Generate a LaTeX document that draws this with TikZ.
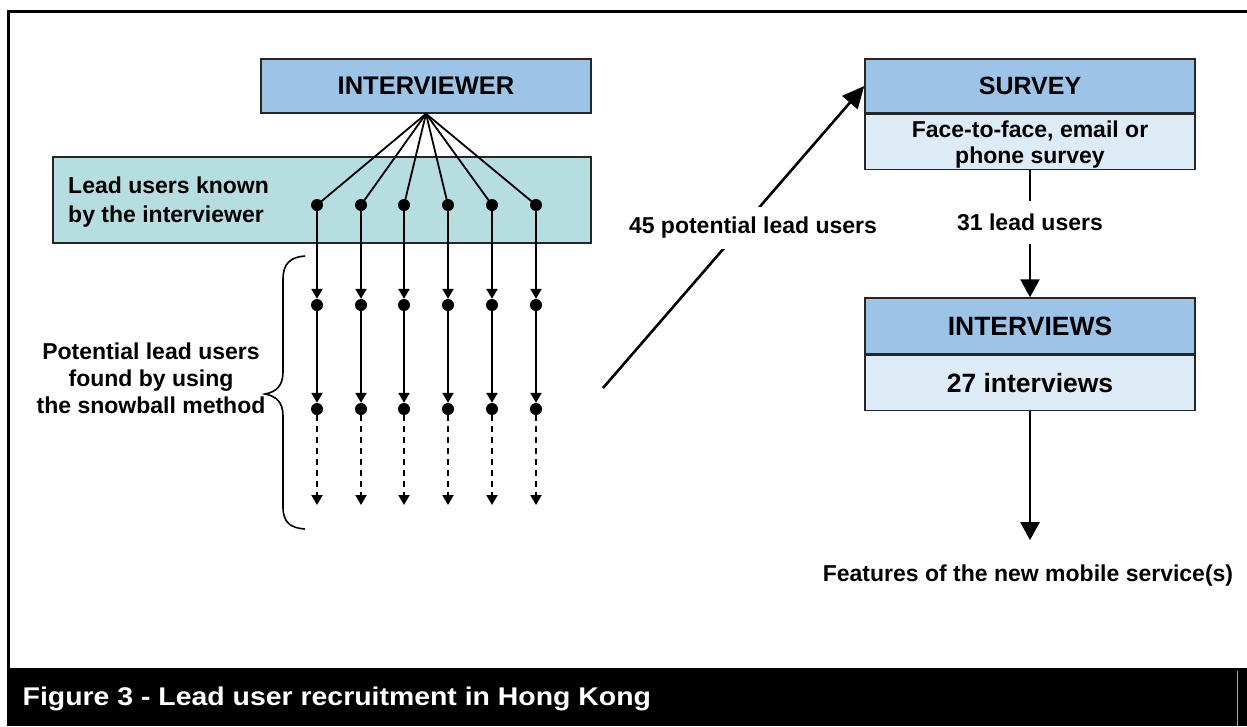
\documentclass[tikz,border=0pt]{standalone}
\usepackage{fontspec}
\setmainfont{Liberation Sans}
\usetikzlibrary{arrows.meta}
\definecolor{hdrblue}{HTML}{9DC3E6}
\definecolor{lowblue}{HTML}{DDEBF7}
\definecolor{tealbox}{HTML}{B6DDE0}
\newcommand{\fs}[2]{\fontsize{#1}{#2}\selectfont\bfseries}
\begin{document}
\begin{tikzpicture}[x=1pt,y=-1pt,
  box/.style={draw=black!85, line width=1.5pt, inner sep=0pt, align=center},
  hdrbox/.style={box, fill=hdrblue, minimum width=330pt},
  lowbox/.style={box, fill=lowblue, minimum width=330pt},
  txt/.style={inner sep=0pt, align=center, font=\fs{23}{27}},
  dot/.style={circle, fill=black, minimum size=12pt, inner sep=0pt},
  fanline/.style={line width=1.8pt},
  smallarrow/.style={line width=2pt, -{Triangle[width=11pt,length=10pt]}},
  dasharrow/.style={smallarrow, dash pattern=on 6pt off 5pt},
  bigarrow/.style={line width=2.5pt, -{Triangle[width=19pt,length=18pt]}},
]
\useasboundingbox (0,0) rectangle (1247,726);
% frame and caption bar
\draw[line width=3pt] (1247,11) -- (8,11) -- (8,668);
\fill[black] (6.5,668) rectangle (1247,726);
\draw[gray!70, line width=0.8pt] (1237,671) -- (1237,726);
\node[anchor=base west, inner sep=0pt, text=white, font=\fs{25.6}{30}] (caption) at (22.5,705) {\scalebox{1.11}[1]{Figure 3 - Lead user recruitment in Hong Kong}};

% left part
\node[box, fill=tealbox, minimum width=538pt, minimum height=86pt] (leadbox) at (322,200) {};
\node[txt, align=left, anchor=north west] (leadtxt) at (68,176.5) {Lead users known\\[2pt]by the interviewer};
\node[hdrbox, minimum height=54pt, font=\fs{25.5}{30}] (interviewer) at (426,86) {INTERVIEWER};

\foreach \x [count=\i] in {317,361,404,448,492,536} {
  \node[dot] (a\i) at (\x,205) {};
  \node[dot] (b\i) at (\x,305) {};
  \node[dot] (c\i) at (\x,409) {};
  \coordinate (e\i) at (\x,505);
  \draw[fanline] (interviewer.south) -- (a\i.center);
  \draw[smallarrow] (a\i.center) -- (b\i);
  \draw[smallarrow] (b\i.center) -- (c\i);
  \draw[dasharrow] (c\i) -- (e\i);
}

% brace
\draw[line width=1.6pt] (305,256) .. controls (290,257) and (283,264) .. (283,279)
  -- (283,372) .. controls (283,386) and (276,392) .. (265,394)
  .. controls (276,396) and (283,402) .. (283,416)
  -- (283,507) .. controls (283,522) and (290,528) .. (305,529);
\node[txt, anchor=north] (snowball) at (151,342.5) {Potential lead users\\found by using\\the snowball method};

% right part
\node[hdrbox, minimum height=54pt, font=\fs{25}{30}] (surveyhdr) at (1030,86) {SURVEY};
\node[lowbox, minimum height=55pt, anchor=north] (surveylow) at (surveyhdr.south) {};
\node[txt, font=\fs{23}{26}, anchor=north] (surveytxt) at (1030,120.5) {Face-to-face, email or\\phone survey};

\node[hdrbox, minimum height=56pt, font=\fs{26.5}{30}] (intvhdr) at (1030,326) {INTERVIEWS};
\node[lowbox, minimum height=55pt, anchor=north, font=\fs{26.5}{30}] (intvlow) at (intvhdr.south) {27 interviews};

\coordinate (start45) at (603,388);
\draw[line width=2.6pt, -{Triangle[width=20pt,length=22pt]}] (start45) -- (surveyhdr.west);
\node[txt, fill=white, inner xsep=1pt, inner ysep=10pt] (lbl45) at (753,228) {45 potential lead users};

\draw[bigarrow] (surveylow.south) -- node[txt, fill=white, inner ysep=13pt, pos=0.41] (lbl31) {31 lead users} (intvhdr.north);

\node[txt, anchor=base] (features) at (1028,581.5) {Features of the new mobile service(s)};
\draw[bigarrow, shorten >=24.5pt] (intvlow.south) -- (intvlow.south |- features.north);
\end{tikzpicture}
\end{document}
